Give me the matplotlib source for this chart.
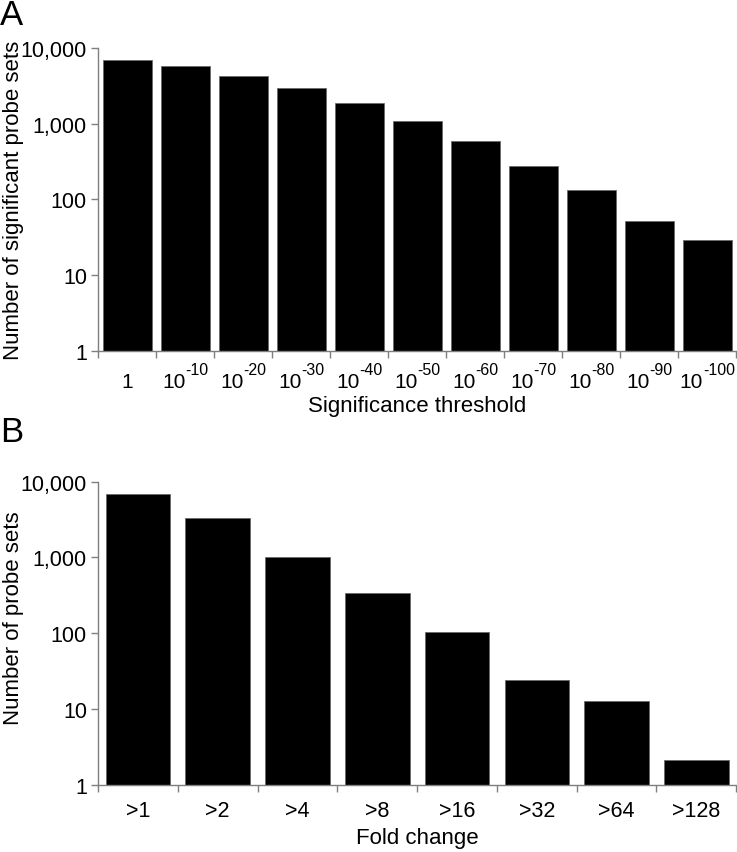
import numpy as np
import matplotlib
matplotlib.use("Agg")
import matplotlib.pyplot as plt
from matplotlib.ticker import FixedLocator, NullLocator, NullFormatter
from matplotlib.transforms import offset_copy

plt.rcParams["font.family"] = ["Liberation Sans", "DejaVu Sans"]

# panel A: probe sets passing each significance threshold (10^exp)
threshold_exps = [0, -10, -20, -30, -40, -50, -60, -70, -80, -90, -100]
sig_counts = [6950, 5840, 4230, 2990, 1900, 1100, 586, 274, 135, 52, 29.5]

# panel B: probe sets passing each fold-change cutoff
fold_labels = [">1", ">2", ">4", ">8", ">16", ">32", ">64", ">128"]
fold_counts = [6880, 3280, 1000, 340, 103, 24, 12.6, 2.1]

ytick_vals = [1, 10, 100, 1000, 10000]
ytick_labels = ["1", "10", "100", "1,000", "10,000"]

axis_grey = "#7f7f7f"


def style_axes(ax, n):
    ax.set_yscale("log")
    ax.set_ylim(1, 10000)
    ax.set_xlim(-0.5, n - 0.5)
    ax.yaxis.set_major_locator(FixedLocator(ytick_vals))
    ax.set_yticklabels(ytick_labels)
    ax.yaxis.set_minor_locator(NullLocator())
    # ticks sit on the category boundaries
    ax.xaxis.set_major_locator(FixedLocator(np.arange(n + 1) - 0.5))
    ax.xaxis.set_major_formatter(NullFormatter())
    ax.tick_params(axis="x", which="major", length=5, width=1, color=axis_grey,
                   direction="out")
    ax.tick_params(axis="y", length=5, width=1, color=axis_grey, pad=3,
                   labelsize=15.5)
    for s in ["top", "right"]:
        ax.spines[s].set_visible(False)
    for s in ["left", "bottom"]:
        ax.spines[s].set_color(axis_grey)
        ax.spines[s].set_linewidth(1)


def char_w(c):
    return 0.333 if c == "-" else 0.556


def power_label(ax, x, exp, dy):
    # "10" with a large raised exponent, centred on x, baseline dy pt below axis
    trans = ax.get_xaxis_transform()
    if exp == 0:
        ax.text(x, 0, "1", transform=offset_copy(trans, fig=fig, x=0, y=-dy, units="points"),
                ha="center", va="baseline", fontsize=15)
        return
    base_size, sup_size = 15, 11.5
    sup = str(exp)
    w_base = 2 * 0.556 * base_size
    w_sup = sum(char_w(c) for c in sup) * sup_size
    left = -(w_base + w_sup) / 2
    ax.text(x, 0, "10", transform=offset_copy(trans, fig=fig, x=left, y=-dy, units="points"),
            ha="left", va="baseline", fontsize=base_size)
    ax.text(x, 0, sup, transform=offset_copy(trans, fig=fig, x=left + w_base, y=-dy + 9.6,
                                             units="points"),
            ha="left", va="baseline", fontsize=sup_size)


fig = plt.figure(figsize=(7.37, 8.53), dpi=100)

axA = fig.add_axes([0.133, 0.5873, 0.866, 0.3553])
xa = np.arange(len(sig_counts))
axA.bar(xa, sig_counts, width=0.845, color="black", edgecolor="#6a6a6a", linewidth=0.6)
style_axes(axA, len(sig_counts))
for xi, e in zip(xa, threshold_exps):
    power_label(axA, xi, e, 26)
axA.set_xlabel("Significance threshold", fontsize=16)
axA.xaxis.set_label_coords(0.5, -0.145)
axA.xaxis.label.set_verticalalignment("top")
axA.set_ylabel("Number of significant probe sets", fontsize=16)
axA.yaxis.set_label_coords(-0.116, 0.5)

axB = fig.add_axes([0.133, 0.0789, 0.866, 0.3552])
xb = np.arange(len(fold_counts))
axB.bar(xb, fold_counts, width=0.81, color="black", edgecolor="#6a6a6a", linewidth=0.6)
style_axes(axB, len(fold_counts))
axB.xaxis.set_minor_locator(FixedLocator(xb))
axB.set_xticklabels(fold_labels, minor=True)
for t in axB.xaxis.get_minorticklabels():
    t.set_verticalalignment("baseline")
axB.tick_params(axis="x", which="minor", length=0, pad=22.3, labelsize=15.5)
axB.set_xlabel("Fold change", fontsize=16)
axB.xaxis.set_label_coords(0.5, -0.14)
axB.xaxis.label.set_verticalalignment("top")
axB.set_ylabel("Number of probe sets", fontsize=16)
axB.yaxis.set_label_coords(-0.116, 0.553)

fig.text(0.0, 1 - 25 / 853, "A", fontsize=25, ha="left", va="baseline")
fig.text(0.0, 1 - 442 / 853, "B", fontsize=25, ha="left", va="baseline")

fig.savefig("out.png", dpi=100)
